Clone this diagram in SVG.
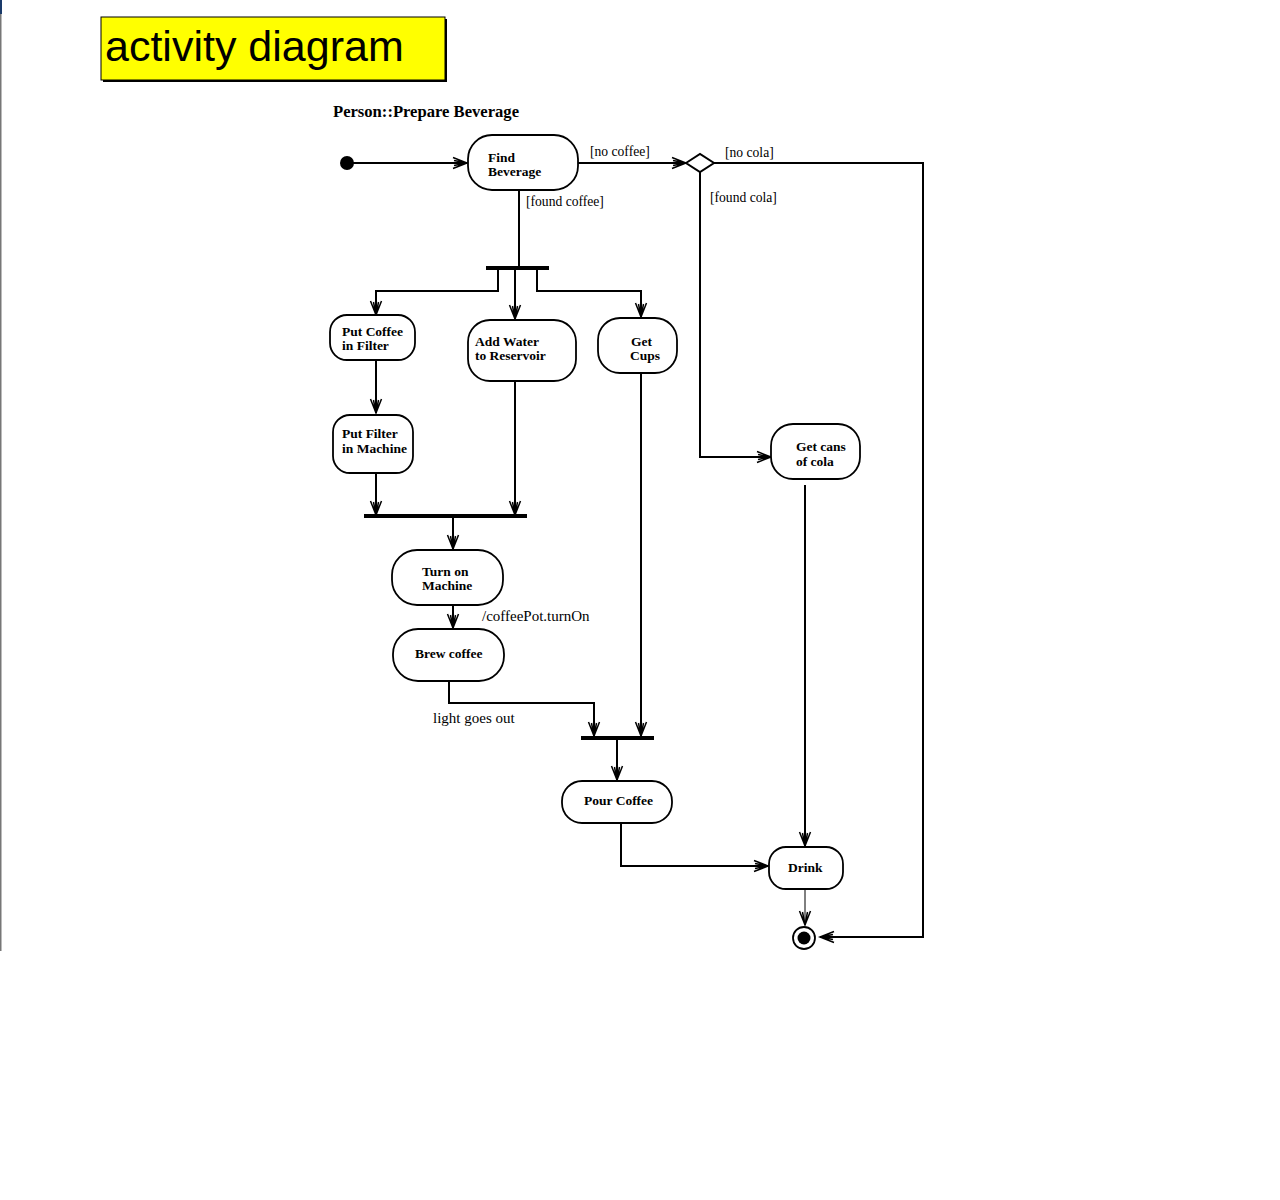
<svg xmlns="http://www.w3.org/2000/svg" width="1280" height="1200" viewBox="0 0 1280 1200">
<defs>
<style>
.node{fill:#fff;stroke:#000;stroke-width:1.8}
.nt{font-family:"Liberation Serif",serif;font-weight:bold;font-size:13.5px;fill:#000}
.lbl{font-family:"Liberation Serif",serif;font-size:13.6px;fill:#000}
.lbl2{font-family:"Liberation Serif",serif;font-size:15px;fill:#000}
.edge{fill:none;stroke:#000;stroke-width:2}
.thin{fill:none;stroke:#000;stroke-width:1}
.bar{fill:#000}
</style>
<marker id="arr" markerUnits="userSpaceOnUse" markerWidth="20" markerHeight="14" viewBox="-14 -7 16 14" refX="0" refY="0" orient="auto">
<path d="M-14,-5.5 L0,0 L-14,5.5 M-13,-2.5 L0,0 L-13,2.5" fill="none" stroke="#000" stroke-width="1.5"/>
</marker>
</defs>
<rect width="1280" height="1200" fill="#fff"/>
<rect x="0" y="0" width="2" height="14" fill="#1a3a6a"/>
<rect x="0" y="14" width="1.5" height="937" fill="#777"/>

<g id="title">
<rect x="103" y="19" width="344" height="63" fill="#000"/>
<rect x="101" y="17" width="344" height="63" fill="#ffff00" stroke="#000" stroke-width="1"/>
<text x="105" y="61" font-family="Liberation Sans,Arial,sans-serif" font-size="43" fill="#000">activity diagram</text>
</g>
<text x="333" y="117" class="nt" style="font-size:16.6px">Person::Prepare Beverage</text>

<g id="connectors">
<path class="edge" d="M347,163 H467" marker-end="url(#arr)"/>
<path class="edge" d="M578,163 H686" marker-end="url(#arr)"/>
<path class="edge" d="M714,163 H923 V937 H820" marker-end="url(#arr)"/>
<path class="edge" d="M700,172 V457 H771" marker-end="url(#arr)"/>
<path class="edge" d="M519,190 V268"/>
<path class="edge" d="M498,268 V291 H376 V315" marker-end="url(#arr)"/>
<path class="edge" d="M515,268 V319" marker-end="url(#arr)"/>
<path class="edge" d="M537,268 V291 H641 V317" marker-end="url(#arr)"/>
<path class="edge" d="M376,360 V413" marker-end="url(#arr)"/>
<path class="edge" d="M376,473 V515" marker-end="url(#arr)"/>
<path class="edge" d="M515,381 V515" marker-end="url(#arr)"/>
<path class="edge" d="M453,516 V549" marker-end="url(#arr)"/>
<path class="edge" d="M453,605 V628" marker-end="url(#arr)"/>
<path class="edge" d="M449,681 V703 H594 V736" marker-end="url(#arr)"/>
<path class="edge" d="M641,373 V736" marker-end="url(#arr)"/>
<path class="edge" d="M617,738 V780" marker-end="url(#arr)"/>
<path class="edge" d="M621,823 V866 H768" marker-end="url(#arr)"/>
<path class="edge" d="M805,485 V846" marker-end="url(#arr)"/>
<path class="thin" d="M805,889 V925" marker-end="url(#arr)"/>
<rect class="bar" x="486" y="266" width="63" height="4"/>
<rect class="bar" x="364" y="514" width="163" height="4"/>
<rect class="bar" x="581" y="736" width="73" height="4"/>
<text class="lbl" x="590" y="156">[no coffee]</text>
<text class="lbl" x="725" y="157">[no cola]</text>
<text class="lbl" x="710" y="202">[found cola]</text>
<text class="lbl" x="526" y="206">[found coffee]</text>
<text class="lbl2" x="482" y="621">/coffeePot.turnOn</text>
<text class="lbl2" x="433" y="723">light goes out</text>
</g>

<g id="initial"><circle cx="347" cy="163" r="7" fill="#000"/></g>

<g id="find-beverage">
<rect class="node" x="468" y="135" width="110" height="55" rx="24" ry="24"/>
<text class="nt" x="488" y="162">Find</text>
<text class="nt" x="488" y="176">Beverage</text>
</g>

<g id="decision"><path d="M686,163 L700,154 L714,163 L700,172 Z" fill="#fff" stroke="#000" stroke-width="2"/></g>

<g id="put-coffee">
<rect class="node" x="330" y="315" width="85" height="45" rx="17" ry="17"/>
<text class="nt" x="342" y="336">Put Coffee</text>
<text class="nt" x="342" y="350">in Filter</text>
</g>

<g id="add-water">
<rect class="node" x="468" y="320" width="108" height="61" rx="22" ry="22"/>
<text class="nt" x="475" y="346">Add Water</text>
<text class="nt" x="475" y="360">to Reservoir</text>
</g>

<g id="get-cups">
<rect class="node" x="598" y="318" width="79" height="55" rx="22" ry="22"/>
<text class="nt" x="631" y="346">Get</text>
<text class="nt" x="630" y="360">Cups</text>
</g>

<g id="put-filter">
<rect class="node" x="333" y="415" width="80" height="58" rx="17" ry="17"/>
<text class="nt" x="342" y="438">Put Filter</text>
<text class="nt" x="342" y="453">in Machine</text>
</g>

<g id="turn-on">
<rect class="node" x="392" y="550" width="111" height="55" rx="25" ry="25"/>
<text class="nt" x="422" y="576">Turn on</text>
<text class="nt" x="422" y="590">Machine</text>
</g>

<g id="brew">
<rect class="node" x="393" y="629" width="111" height="52" rx="25" ry="25"/>
<text class="nt" x="415" y="658">Brew coffee</text>
</g>

<g id="get-cola">
<rect class="node" x="771" y="424" width="89" height="55" rx="22" ry="22"/>
<text class="nt" x="796" y="451">Get cans</text>
<text class="nt" x="796" y="466">of cola</text>
</g>

<g id="pour">
<rect class="node" x="562" y="781" width="110" height="42" rx="20" ry="20"/>
<text class="nt" x="584" y="805">Pour Coffee</text>
</g>

<g id="drink">
<rect class="node" x="769" y="847" width="74" height="42" rx="17" ry="17"/>
<text class="nt" x="788" y="872">Drink</text>
</g>

<g id="final">
<circle cx="804" cy="938" r="11" fill="#fff" stroke="#000" stroke-width="1.8"/>
<circle cx="804" cy="938" r="6.5" fill="#000"/>
</g>
</svg>
